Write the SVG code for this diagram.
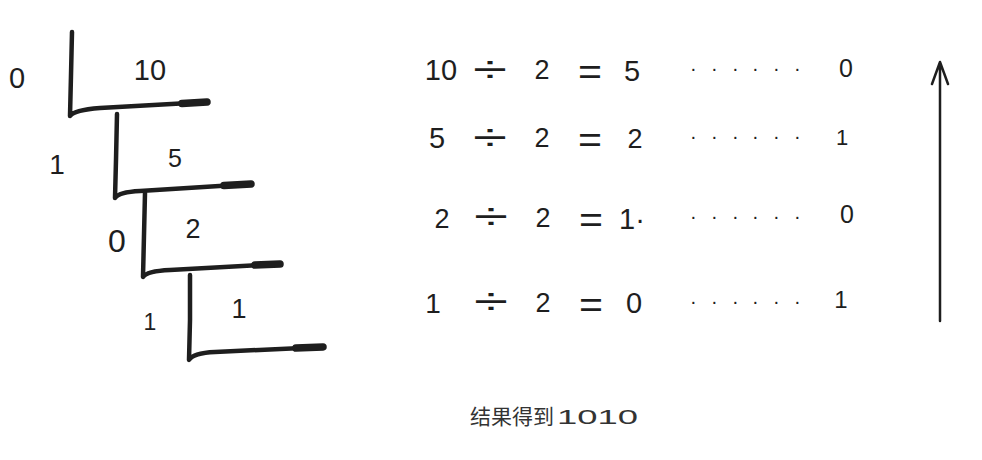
<svg xmlns="http://www.w3.org/2000/svg" width="982" height="460" viewBox="0 0 982 460">
<style>
.t{font-family:"Liberation Sans","Noto Sans CJK SC",sans-serif;fill:#1e1e1e;text-anchor:middle}
.s{stroke:#1e1e1e;fill:none;stroke-linecap:round;stroke-linejoin:round}
.b{stroke-width:4.5}
.e{stroke-width:7.5}
.op{font-size:36px}
.dots{font-family:"Liberation Sans",sans-serif;fill:#1e1e1e;font-size:20px}
</style>
<rect width="982" height="460" fill="#ffffff"/>
<g id="brackets">
<g id="bracket1"><path class="s b" d="M72,32 L71,75 L70,116 Q74,110 100,108 L207,102"/><path class="s e" d="M182,103.5 L207,102"/></g>
<g id="bracket2"><path class="s b" d="M117,114 L116,160 L115,198 Q119,192 140,191 L251,184"/><path class="s e" d="M224,185.5 L251,184"/></g>
<g id="bracket3"><path class="s b" d="M145,193 L144,235 L143,277 Q147,271 170,270 L280,264"/><path class="s e" d="M255,265 L280,264"/></g>
<g id="bracket4"><path class="s b" d="M190,275 L190,320 L189,360 Q193,353 215,352 L323,347"/><path class="s e" d="M296,348 L323,347"/></g>
</g>
<g id="labels-left">
<text class="t" x="17" y="88" font-size="29">0</text>
<text class="t" x="150" y="80" font-size="29">10</text>
<text class="t" x="57" y="174" font-size="28">1</text>
<text class="t" x="175" y="167" font-size="25">5</text>
<text class="t" x="117" y="252" font-size="32">0</text>
<text class="t" x="193" y="238" font-size="27">2</text>
<text class="t" x="150" y="330" font-size="23">1</text>
<text class="t" x="239" y="318" font-size="27">1</text>
</g>
<g id="row1">
<text class="t" x="441" y="80" font-size="29">10</text>
<text class="t op" x="490" y="82" textLength="34" lengthAdjust="spacingAndGlyphs">÷</text>
<text class="t" x="542" y="79" font-size="27">2</text>
<text class="t op" x="590" y="84" textLength="24" lengthAdjust="spacingAndGlyphs">=</text>
<text class="t" x="632" y="81" font-size="29">5</text>
<text class="dots" x="690 711 732 752 773 794" y="75">······</text>
<text class="t" x="846" y="77" font-size="25">0</text>
</g>
<g id="row2">
<text class="t" x="437" y="148" font-size="29">5</text>
<text class="t op" x="490" y="150" textLength="34" lengthAdjust="spacingAndGlyphs">÷</text>
<text class="t" x="542" y="147" font-size="27">2</text>
<text class="t op" x="590" y="152" textLength="24" lengthAdjust="spacingAndGlyphs">=</text>
<text class="t" x="635" y="148" font-size="27">2</text>
<text class="dots" x="690 711 732 752 773 794" y="143">······</text>
<text class="t" x="842" y="145" font-size="22">1</text>
</g>
<g id="row3">
<text class="t" x="442" y="228" font-size="27">2</text>
<text class="t op" x="491" y="229" textLength="34" lengthAdjust="spacingAndGlyphs">÷</text>
<text class="t" x="543" y="227" font-size="27">2</text>
<text class="t op" x="591" y="232" textLength="24" lengthAdjust="spacingAndGlyphs">=</text>
<text class="t" x="632" y="229" font-size="29">1·</text>
<text class="dots" x="690 711 732 752 773 794" y="223">······</text>
<text class="t" x="847" y="223" font-size="25">0</text>
</g>
<g id="row4">
<text class="t" x="433" y="313" font-size="28">1</text>
<text class="t op" x="491" y="314" textLength="34" lengthAdjust="spacingAndGlyphs">÷</text>
<text class="t" x="543" y="312" font-size="27">2</text>
<text class="t op" x="591" y="317" textLength="24" lengthAdjust="spacingAndGlyphs">=</text>
<text class="t" x="634" y="313" font-size="29">0</text>
<text class="dots" x="690 711 732 752 773 794" y="308">······</text>
<text class="t" x="841" y="308" font-size="24">1</text>
</g>
<g id="connectors">
<path class="s" stroke-width="2.5" d="M940,321 L940,62 M932,84 L940,62 L948,84"/>
</g>
<g id="result">
<text x="470" y="424" font-family="'Liberation Sans','Noto Sans CJK SC',sans-serif" font-size="21" fill="#333333">结果得到 <tspan x="557" textLength="81" lengthAdjust="spacingAndGlyphs">1010</tspan></text>
</g>
</svg>
